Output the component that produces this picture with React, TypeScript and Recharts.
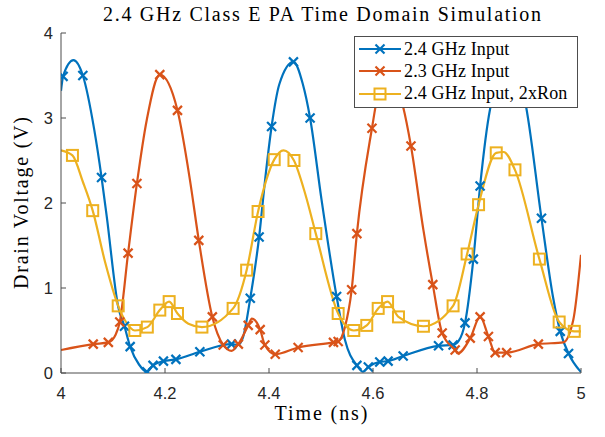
import React from "react";
import { LineChart, Line, XAxis, YAxis, Legend } from "recharts";

// ---- data (time in ns, drain voltage in V, marker flag) ----
const xTicks = [4, 4.2, 4.4, 4.6, 4.8, 5];
const xTickLabels = ["4", "4.2", "4.4", "4.6", "4.8", "5"];
const yTicks = [0, 1, 2, 3, 4];
const yTickLabels = ["0", "1", "2", "3", "4"];

const seriesNames = ["2.4 GHz Input", "2.3 GHz Input", "2.4 GHz Input, 2xRon"];

const blueT = [4.0, 4.004, 4.024, 4.042, 4.064, 4.078, 4.088, 4.11, 4.122, 4.133, 4.15, 4.165, 4.177, 4.197, 4.221, 4.267, 4.328, 4.34, 4.35, 4.364, 4.381, 4.393, 4.405, 4.42, 4.447, 4.465, 4.479, 4.501, 4.53, 4.546, 4.569, 4.581, 4.591, 4.613, 4.629, 4.658, 4.726, 4.754, 4.765, 4.777, 4.793, 4.806, 4.825, 4.86, 4.892, 4.924, 4.946, 4.96, 4.976, 5.0];
const blueV = [3.32, 3.49, 3.68, 3.5, 2.86, 2.3, 1.84, 0.78, 0.55, 0.31, 0.1, 0.015, 0.09, 0.14, 0.16, 0.25, 0.34, 0.33, 0.42, 0.88, 1.6, 2.3, 2.9, 3.4, 3.66, 3.4, 3.0, 2.04, 0.9, 0.39, 0.09, 0.015, 0.07, 0.13, 0.14, 0.2, 0.32, 0.33, 0.38, 0.59, 1.34, 2.2, 3.1, 3.66, 3.21, 1.82, 0.9, 0.49, 0.23, 0.01];
const blueM = [0, 1, 0, 1, 0, 1, 0, 0, 1, 1, 0, 1, 1, 1, 1, 1, 1, 0, 0, 1, 1, 0, 1, 0, 1, 0, 1, 0, 1, 0, 1, 0, 1, 1, 1, 1, 1, 1, 0, 1, 1, 1, 0, 0, 0, 1, 0, 1, 1, 0];

const orangeT = [4.0, 4.062, 4.091, 4.105, 4.113, 4.129, 4.146, 4.165, 4.19, 4.224, 4.248, 4.265, 4.291, 4.312, 4.328, 4.341, 4.36, 4.367, 4.383, 4.392, 4.412, 4.456, 4.524, 4.533, 4.546, 4.559, 4.569, 4.598, 4.612, 4.627, 4.658, 4.673, 4.697, 4.715, 4.733, 4.758, 4.763, 4.787, 4.806, 4.822, 4.835, 4.857, 4.918, 4.966, 4.985, 5.0];
const orangeV = [0.27, 0.34, 0.36, 0.45, 0.6, 1.41, 2.23, 2.98, 3.51, 3.09, 2.27, 1.56, 0.66, 0.33, 0.26, 0.34, 0.56, 0.64, 0.51, 0.33, 0.22, 0.3, 0.36, 0.37, 0.54, 0.98, 1.64, 2.88, 3.35, 3.51, 3.13, 2.67, 1.68, 1.04, 0.47, 0.27, 0.23, 0.41, 0.66, 0.43, 0.24, 0.24, 0.34, 0.36, 0.62, 1.39];
const orangeM = [0, 1, 1, 0, 1, 1, 1, 0, 1, 1, 0, 1, 1, 1, 0, 1, 1, 0, 1, 1, 1, 1, 1, 1, 0, 1, 1, 1, 0, 0, 0, 1, 0, 1, 1, 1, 0, 1, 1, 1, 1, 1, 1, 0, 0, 0];

const yellowT = [4.0, 4.022, 4.042, 4.061, 4.085, 4.11, 4.125, 4.142, 4.166, 4.19, 4.208, 4.224, 4.245, 4.271, 4.331, 4.357, 4.379, 4.41, 4.428, 4.448, 4.47, 4.49, 4.533, 4.563, 4.588, 4.61, 4.628, 4.649, 4.697, 4.754, 4.781, 4.803, 4.837, 4.851, 4.873, 4.92, 4.958, 4.987, 5.0];
const yellowV = [2.62, 2.56, 2.25, 1.91, 1.3, 0.79, 0.6, 0.5, 0.54, 0.74, 0.84, 0.7, 0.58, 0.54, 0.76, 1.21, 1.9, 2.51, 2.62, 2.5, 2.1, 1.64, 0.7, 0.5, 0.56, 0.76, 0.84, 0.66, 0.55, 0.79, 1.4, 1.98, 2.59, 2.6, 2.39, 1.34, 0.6, 0.49, 0.49];
const yellowM = [0, 1, 0, 1, 0, 1, 0, 1, 1, 1, 1, 1, 0, 1, 1, 1, 1, 1, 0, 1, 0, 1, 1, 1, 1, 1, 1, 1, 1, 1, 1, 1, 1, 0, 1, 1, 1, 1, 0];

const BLUE = "#0072BD";
const ORANGE = "#D95319";
const YELLOW = "#EDB120";
const AXIS = "#4d4d4d";

const build = (t: number[], v: number[], m: number[]) =>
  t.map((tt, i) => ({ t: tt, v: v[i], m: m[i] }));

const blueData = build(blueT, blueV, blueM);
const orangeData = build(orangeT, orangeV, orangeM);
const yellowData = build(yellowT, yellowV, yellowM);

const XMark = ({ cx, cy, color }: any) => (
  <g>
    <line x1={cx - 4.5} y1={cy - 4.5} x2={cx + 4.5} y2={cy + 4.5} stroke={color} strokeWidth={2.2} />
    <line x1={cx - 4.5} y1={cy + 4.5} x2={cx + 4.5} y2={cy - 4.5} stroke={color} strokeWidth={2.2} />
  </g>
);
const SqMark = ({ cx, cy, color }: any) => (
  <rect x={cx - 5.5} y={cy - 5.5} width={11} height={11} fill="none" stroke={color} strokeWidth={2} />
);

const makeDot = (kind: "x" | "sq", color: string) => (props: any) => {
  const { cx, cy, payload, index } = props;
  if (!payload || !payload.m) return <g key={`d${index}`} />;
  return (
    <g key={`d${index}`}>
      {kind === "x" ? <XMark cx={cx} cy={cy} color={color} /> : <SqMark cx={cx} cy={cy} color={color} />}
    </g>
  );
};

const tickFont = { fontFamily: "'Liberation Sans', Arial, sans-serif", fontSize: 16.5, fill: "#262626" };

const BottomTick = ({ x, y, payload }: any) => {
  const i = xTicks.indexOf(payload.value);
  return (
    <g>
      <line x1={x} x2={x} y1={y} y2={y - 5} stroke={AXIS} />
      <text x={x} y={y + 26} textAnchor="middle" {...tickFont}>
        {i >= 0 ? xTickLabels[i] : String(payload.value)}
      </text>
    </g>
  );
};
const TopTick = ({ x, y }: any) => <line x1={x} x2={x} y1={y} y2={y + 5} stroke={AXIS} />;
const LeftTick = ({ x, y, payload }: any) => {
  const i = yTicks.indexOf(payload.value);
  return (
    <g>
      <line x1={x} x2={x + 5} y1={y} y2={y} stroke={AXIS} />
      <text x={x - 8} y={y + 6} textAnchor="end" {...tickFont}>
        {i >= 0 ? yTickLabels[i] : String(payload.value)}
      </text>
    </g>
  );
};
const RightTick = ({ x, y }: any) => <line x1={x} x2={x - 5} y1={y} y2={y} stroke={AXIS} />;

const serif = "'Liberation Serif', 'DejaVu Serif', serif";

const LegendBox = () => {
  const rows = [
    { name: seriesNames[0], color: BLUE, kind: "x" },
    { name: seriesNames[1], color: ORANGE, kind: "x" },
    { name: seriesNames[2], color: YELLOW, kind: "sq" },
  ];
  return (
    <div
      style={{
        width: 224,
        height: 72,
        background: "#fff",
        border: "1px solid #4d4d4d",
        boxSizing: "border-box",
        position: "relative",
      }}
    >
      {rows.map((r, i) => (
        <div key={i} style={{ position: "absolute", left: 3, top: 1 + i * 22.3, height: 22, display: "flex", alignItems: "center" }}>
          <svg width={44} height={20} style={{ display: "block" }}>
            <line x1={1} x2={43} y1={10} y2={10} stroke={r.color} strokeWidth={2.2} />
            {r.kind === "x" ? <XMark cx={22} cy={10} color={r.color} /> : <SqMark cx={22} cy={10} color={r.color} />}
          </svg>
          <span style={{ fontFamily: serif, fontSize: 18, letterSpacing: 0.15, color: "#000", marginLeft: 2, whiteSpace: "nowrap" }}>{r.name}</span>
        </div>
      ))}
    </div>
  );
};

export default function App() {
  return (
    <div style={{ position: "absolute", left: 0, top: 0, width: 605, height: 437, background: "#fff" }}>
      <LineChart width={605} height={437} margin={{ top: 33, right: 24, bottom: 34, left: 0 }}>
        <XAxis
          xAxisId="b"
          type="number"
          dataKey="t"
          domain={[4, 5]}
          ticks={xTicks}
          allowDataOverflow
          height={30}
          tickSize={0}
          tickMargin={0}
          stroke={AXIS}
          tick={<BottomTick />}
          interval={0}
        />
        <XAxis
          xAxisId="top"
          orientation="top"
          type="number"
          dataKey="t"
          domain={[4, 5]}
          ticks={xTicks}
          allowDataOverflow
          height={0}
          tickSize={0}
          tickMargin={0}
          stroke={AXIS}
          tick={<TopTick />}
          interval={0}
        />
        <YAxis
          yAxisId="l"
          type="number"
          domain={[0, 4]}
          ticks={yTicks}
          allowDataOverflow
          width={61}
          tickSize={0}
          tickMargin={0}
          stroke={AXIS}
          tick={<LeftTick />}
          interval={0}
        />
        <YAxis
          yAxisId="r"
          orientation="right"
          type="number"
          domain={[0, 4]}
          ticks={yTicks}
          allowDataOverflow
          width={0}
          tickSize={0}
          tickMargin={0}
          stroke={AXIS}
          tick={<RightTick />}
          interval={0}
        />
        <Line xAxisId="b" yAxisId="l" data={blueData} dataKey="v" name={seriesNames[0]} type="monotone" stroke={BLUE} strokeWidth={2.2} dot={makeDot("x", BLUE)} activeDot={false} isAnimationActive={false} />
        <Line xAxisId="b" yAxisId="l" data={orangeData} dataKey="v" name={seriesNames[1]} type="monotone" stroke={ORANGE} strokeWidth={2.2} dot={makeDot("x", ORANGE)} activeDot={false} isAnimationActive={false} />
        <Line xAxisId="b" yAxisId="l" data={yellowData} dataKey="v" name={seriesNames[2]} type="monotone" stroke={YELLOW} strokeWidth={2.2} dot={makeDot("sq", YELLOW)} activeDot={false} isAnimationActive={false} />
        <Legend
          layout="vertical"
          align="center"
          verticalAlign="middle"
          content={<LegendBox />}
          wrapperStyle={{ position: "absolute", left: 354, top: 36, width: 224, margin: 0 }}
        />
      </LineChart>
      <svg width={605} height={437} style={{ position: "absolute", left: 0, top: 0, pointerEvents: "none" }}>
        <text x={322} y={21} textAnchor="middle" fontFamily={serif} fontSize={20} fill="#000" textLength={438} lengthAdjust="spacing">
          2.4 GHz Class E PA Time Domain Simulation
        </text>
        <text x={321} y={420} textAnchor="middle" fontFamily={serif} fontSize={20} fill="#000" textLength={93} lengthAdjust="spacing">
          Time (ns)
        </text>
        <text
          x={0}
          y={0}
          transform="translate(28,203) rotate(-90)"
          textAnchor="middle"
          fontFamily={serif}
          fontSize={20}
          fill="#000"
          textLength={172}
          lengthAdjust="spacing"
        >
          Drain Voltage (V)
        </text>
      </svg>
    </div>
  );
}
